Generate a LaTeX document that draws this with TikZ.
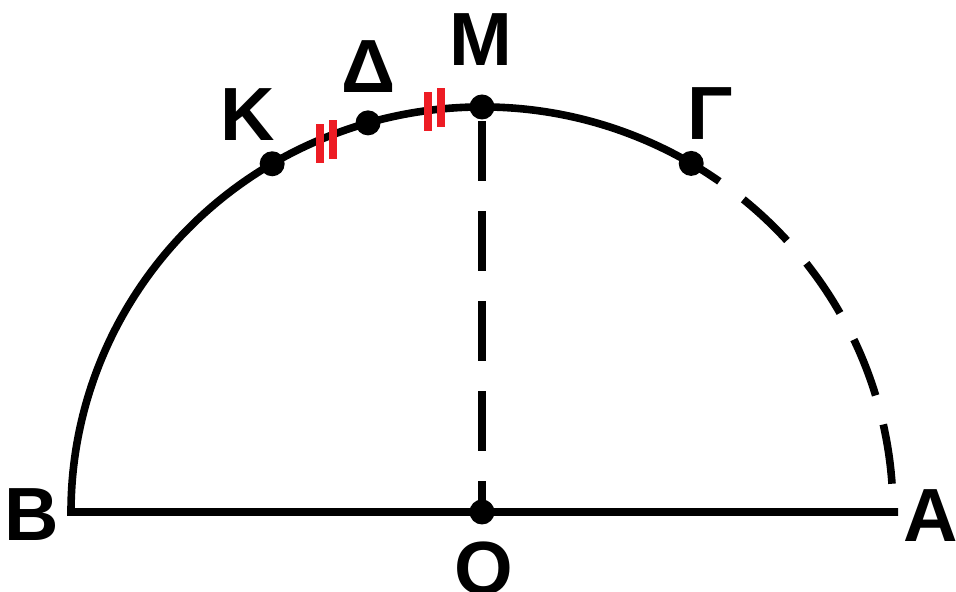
\documentclass[tikz,border=0pt]{standalone}
\usepackage{fontspec}
\setmainfont{Liberation Sans}
\usetikzlibrary{calc}
\definecolor{tickred}{HTML}{ED1C24}
\tikzset{
  geo/.style={line width=3.8pt, black},
  dashgeo/.style={geo, dash pattern=on 30pt off 15pt},
  dot/.style={fill=black},
  tick/.style={line width=4pt, tickred},
  lbl/.style={inner sep=0pt, font=\fontsize{37.7}{40}\selectfont\bfseries}
}
\begin{document}
\begin{tikzpicture}[x=0.5pt,y=0.5pt]
\useasboundingbox (0,0) rectangle (956,592);
\coordinate (O) at (482,80);
\coordinate (B) at (71,80);
\coordinate (Aline) at (898,80);
\path (O) ++(90:205.5pt and 202.5pt) coordinate (M);
\path (O) ++(120.7:205.5pt and 202.5pt) coordinate (K);
\path (O) ++(106.1:205.5pt and 202.5pt) coordinate (D);
\path (O) ++(59.4:205.5pt and 202.5pt) coordinate (G);
\path (O) ++(4:205.5pt and 202.5pt) coordinate (Aend);
% solid arc and base
\draw[geo, line join=miter] (G) arc[start angle=59.4, end angle=180, x radius=205.5pt, y radius=202.5pt] -- (Aline);
% dashed arc
\draw[dashgeo] (Aend) arc[start angle=4, end angle=59.4, x radius=205.5pt, y radius=202.5pt];
% dashed radius
\draw[dashgeo, dash phase=14.5pt] (O) -- (M);
% red ticks
\draw[tick] (320,429) -- (320,468);
\draw[tick] (333,433) -- (333,472);
\draw[tick] (427.5,461) -- (427.5,500);
\draw[tick] (440.5,465) -- (440.5,504);
% dots
\foreach \p in {O,M,K,D,G} \fill[dot] (\p) circle[radius=6.25pt];
% labels
\node[lbl] (lK) at (248,477) {Κ};
\node[lbl] (lD) at (369,525) {Δ};
\node[lbl] (lM) at (481,552) {Μ};
\node[lbl] (lG) at (710,478) {Γ};
\node[lbl] (lB) at (32,77) {Β};
\node[lbl] (lA) at (931,76) {Α};
\node[lbl] (lO) at (484,23) {Ο};
\end{tikzpicture}
\end{document}
